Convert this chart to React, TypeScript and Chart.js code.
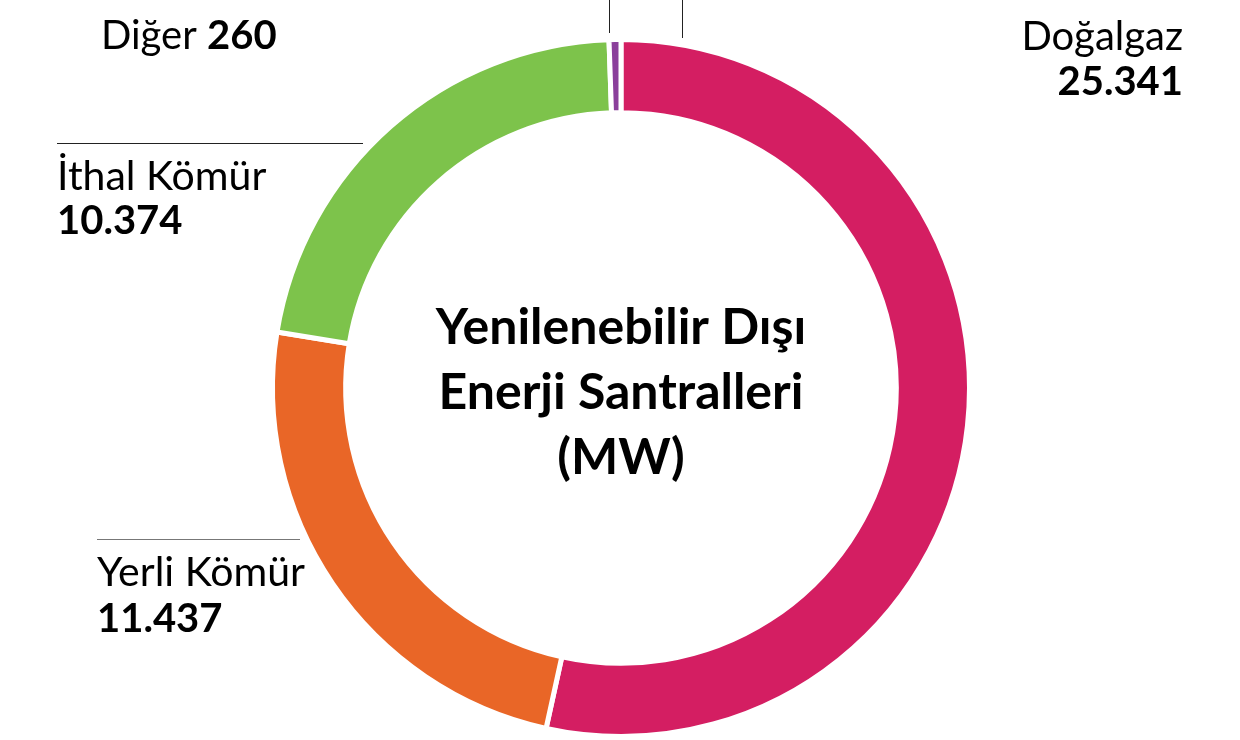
import React, { useEffect, useRef } from "react";
import { Chart, registerables } from "chart.js";

Chart.register(...registerables);

const categories = ["Doğalgaz", "Yerli Kömür", "İthal Kömür", "Diğer"];
const values = [25341, 11437, 10374, 260];
const valueLabels = ["25.341", "11.437", "10.374", "260"];
const colors = ["#D41E62", "#E96627", "#7DC34B", "#8B3F9B"];
const centerTitle = ["Yenilenebilir Dışı", "Enerji Santralleri", "(MW)"];

const FONT = "Lato, 'Open Sans', sans-serif";

const labelsPlugin = {
  id: "labelsPlugin",
  afterDraw(chart: any) {
    const ctx = chart.ctx as CanvasRenderingContext2D;
    ctx.save();
    // leader line remnants
    ctx.lineWidth = 1;
    ctx.strokeStyle = "#222";
    ctx.beginPath();
    ctx.moveTo(609.5, 0);
    ctx.lineTo(609.5, 33);
    ctx.moveTo(682.5, 0);
    ctx.lineTo(682.5, 38);
    ctx.moveTo(57, 143.5);
    ctx.lineTo(363, 143.5);
    ctx.stroke();
    ctx.strokeStyle = "#777";
    ctx.beginPath();
    ctx.moveTo(97, 539.5);
    ctx.lineTo(300, 539.5);
    ctx.stroke();

    ctx.fillStyle = "#000";
    ctx.textBaseline = "alphabetic";
    const reg = `400 41px ${FONT}`;
    const bold = `700 40px ${FONT}`;

    // Doğalgaz (right aligned)
    ctx.textAlign = "right";
    ctx.font = `400 40px ${FONT}`;
    ctx.fillText(categories[0], 1183, 50);
    ctx.font = bold;
    ctx.fillText(valueLabels[0], 1183, 95);

    ctx.textAlign = "left";
    // Yerli Kömür
    ctx.font = reg;
    ctx.fillText(categories[1], 97, 586);
    ctx.font = bold;
    ctx.fillText(valueLabels[1], 97, 632);

    // İthal Kömür
    ctx.font = reg;
    ctx.fillText(categories[2], 57, 190);
    ctx.font = bold;
    ctx.fillText(valueLabels[2], 57, 234);

    // Diğer 260
    ctx.font = `400 40px ${FONT}`;
    const dText = categories[3] + " ";
    ctx.fillText(dText, 101, 49);
    const w = ctx.measureText(dText).width;
    ctx.font = bold;
    ctx.fillText(valueLabels[3], 101 + w, 49);

    // center title
    const area = chart.chartArea;
    const cx = (area.left + area.right) / 2;
    ctx.textAlign = "center";
    ctx.font = `700 50px ${FONT}`;
    centerTitle.forEach((line, i) => {
      ctx.fillText(line, cx, 344 + i * 65);
    });
    ctx.restore();
  },
};

export default function App() {
  const ref = useRef<HTMLCanvasElement>(null);
  useEffect(() => {
    if (!ref.current) return;
    const chart = new Chart(ref.current, {
      type: "doughnut",
      data: {
        labels: categories,
        datasets: [
          {
            data: values,
            backgroundColor: colors,
            borderColor: "#ffffff",
            borderWidth: 5,
            hoverOffset: 0,
          },
        ],
      },
      options: {
        animation: false,
        responsive: false,
        maintainAspectRatio: false,
        cutout: "79%",
        layout: { padding: { top: 36, bottom: 0, left: 270, right: 268 } },
        plugins: {
          legend: { display: false },
          tooltip: { enabled: false },
        },
      },
      plugins: [labelsPlugin],
    });
    return () => chart.destroy();
  }, []);
  return (
    <div style={{ position: "absolute", left: 0, top: 0, width: 1240, height: 740, background: "#fff" }}>
      <canvas ref={ref} width={1240} height={740} style={{ width: 1240, height: 740 }} />
    </div>
  );
}
